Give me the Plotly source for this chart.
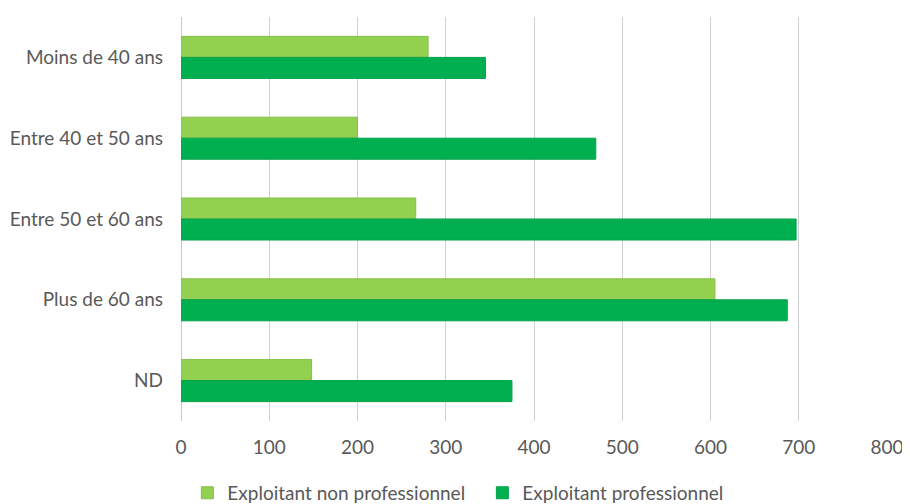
import plotly.graph_objects as go

categories = ["Moins de 40 ans", "Entre 40 et 50 ans", "Entre 50 et 60 ans", "Plus de 60 ans", "ND"]
non_pro = [280, 200, 266, 605, 148]
pro = [345, 470, 697, 687, 375]
x_ticks = [0, 100, 200, 300, 400, 500, 600, 700, 800]

font_family = "Lato, 'Open Sans', sans-serif"
txt = "#595959"

fig = go.Figure()
fig.add_trace(go.Bar(
    y=categories, x=non_pro, orientation="h", name="Exploitant non professionnel",
    marker=dict(color="#92D050", line=dict(color="#86BF4A", width=1)),
))
fig.add_trace(go.Bar(
    y=categories, x=pro, orientation="h", name="Exploitant professionnel",
    marker=dict(color="#00B050", line=dict(color="#00A24A", width=1)),
))

# page body has an 8px margin: figure sized to fit the 910x504 window
fig.update_layout(
    width=902, height=496,
    margin=dict(l=173, r=23, t=9, b=83, autoexpand=False),
    barmode="group", bargap=0.48, bargroupgap=0,
    plot_bgcolor="white", paper_bgcolor="white",
    font=dict(family=font_family, size=19, color=txt),
    showlegend=True,
    legend=dict(orientation="h", x=0.009, xanchor="left", y=-0.178, yanchor="middle",
                font=dict(size=19, color=txt), traceorder="normal",
                itemwidth=30, entrywidth=250),
    xaxis=dict(range=[0, 800], tickvals=x_ticks, showgrid=True, gridcolor="#D0D0D0",
               gridwidth=1, zeroline=True, zerolinecolor="#C8C8C8", zerolinewidth=1,
               showline=False, ticks="", tickfont=dict(size=19, color=txt),
               automargin=False, ticklabelstandoff=13),
    yaxis=dict(autorange="reversed", showgrid=False, showline=False, ticks="",
               automargin=False, ticklabelstandoff=17,
               tickfont=dict(size=19, color=txt)),
)

fig.write_html("out.html")
